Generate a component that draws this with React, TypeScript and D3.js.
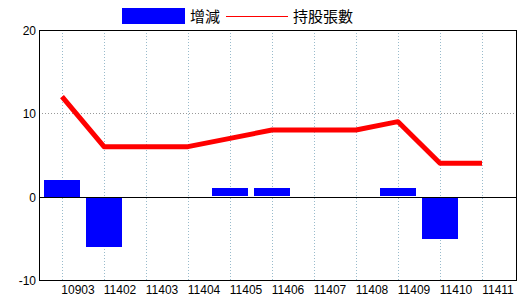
import React from "react";
import * as d3 from "d3";

const categories = ["10903", "11402", "11403", "11404", "11405", "11406", "11407", "11408", "11409", "11410", "11411"];
const changeValues = [2, -6, 0, 0, 1, 1, 0, 0, 1, -5, 0];
const holdingValues = [12, 6, 6, 6, 7, 8, 8, 8, 9, 4, 4];
const yTicks = [-10, 0, 10, 20];
const legendLabels = ["增減", "持股張數"];

const W = 520, H = 300;
const L = 39, R = 516, T = 30, B = 280;

export default function App() {
  const y = d3.scaleLinear().domain([-10, 20]).range([B, T]);
  const x = d3.scaleLinear().domain([0, categories.length - 1]).range([62, 482]);
  const barW = 36;
  const line = d3.line<number>().x((_, i) => x(i)).y((d) => y(d));
  const font = "'Liberation Sans', Arial, sans-serif";
  const cjk = "'Noto Sans CJK TC', sans-serif";

  return (
    <svg width={W} height={H} style={{ position: "absolute", left: 0, top: 0, background: "#fff" }}>
      {/* legend */}
      <rect x={122} y={8} width={63} height={16} fill="#0000FF" />
      <text x={190} y={22} fontFamily={cjk} fontSize={15} fill="#000">{legendLabels[0]}</text>
      <line x1={226} x2={288} y1={16.5} y2={16.5} stroke="#FF0000" strokeWidth={1} />
      <text x={293} y={22} fontFamily={cjk} fontSize={15} fill="#000">{legendLabels[1]}</text>

      {/* vertical grid */}
      {categories.map((c, i) => (
        <line key={c} x1={x(i) + 0.5} x2={x(i) + 0.5} y1={T} y2={B} stroke="#99BBCC" strokeDasharray="1,2" />
      ))}
      {/* horizontal grid */}
      {yTicks.filter((t) => t !== 0 && t !== -10 && t !== 20).map((t) => (
        <line key={t} x1={L} x2={R} y1={Math.round(y(t)) + 0.5} y2={Math.round(y(t)) + 0.5} stroke="#999" strokeDasharray="1,2" />
      ))}

      {/* bars */}
      {changeValues.map((v, i) =>
        v === 0 ? null : (
          <rect
            key={i}
            x={x(i) - barW / 2}
            y={Math.round(y(Math.max(v, 0)))}
            width={barW}
            height={Math.round(Math.abs(y(v) - y(0)))}
            fill="#0000FF"
          />
        )
      )}

      {/* zero line */}
      <line x1={L} x2={R} y1={Math.round(y(0)) + 0.5} y2={Math.round(y(0)) + 0.5} stroke="#000" strokeWidth={1} />

      {/* holding line */}
      <path d={line(holdingValues) || ""} fill="none" stroke="#FF0000" strokeWidth={5} strokeLinejoin="round" />

      {/* frame */}
      <rect x={L + 0.5} y={T + 0.5} width={R - L} height={B - T} fill="none" stroke="#000" strokeWidth={1} />

      {/* y labels */}
      {yTicks.map((t) => (
        <text key={t} x={36} y={y(t) + 5} textAnchor="end" fontFamily={font} fontSize={12} fill="#000">{t}</text>
      ))}
      {/* x labels */}
      {categories.map((c, i) => (
        <text key={c} x={x(i) + 16} y={294} textAnchor="middle" fontFamily={font} fontSize={12} fill="#000">{c}</text>
      ))}
    </svg>
  );
}
